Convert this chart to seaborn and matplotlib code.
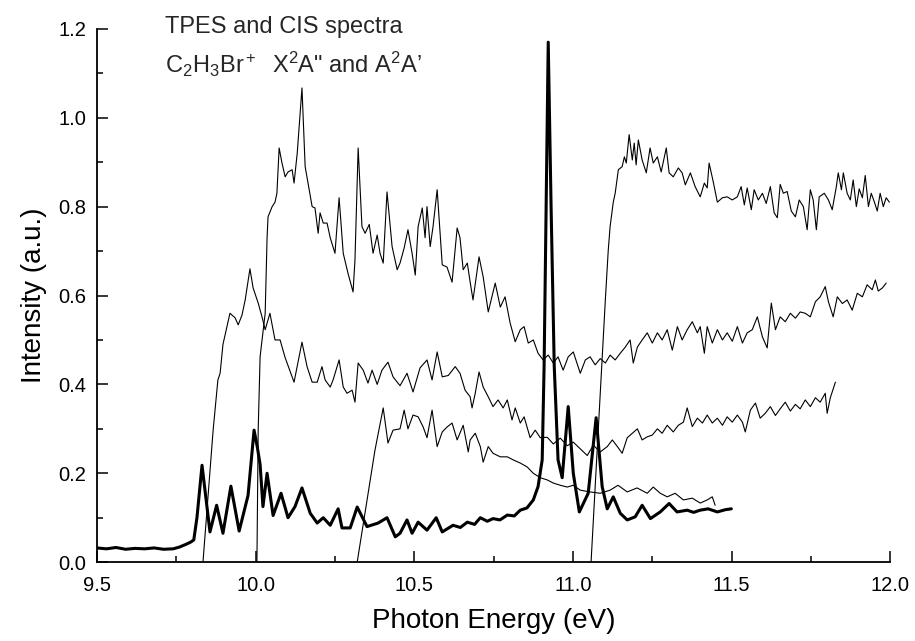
import matplotlib
matplotlib.use("Agg")
import matplotlib.pyplot as plt
from matplotlib.ticker import MultipleLocator
import seaborn as sns

sns.set_theme(style="ticks")
plt.rcParams['font.family'] = ['Liberation Sans', 'DejaVu Sans']
plt.rcParams['mathtext.fontset'] = 'custom'
plt.rcParams['mathtext.rm'] = 'Liberation Sans'
plt.rcParams['mathtext.it'] = 'Liberation Sans'

# TPES (thick line), photon energy in eV and intensity in a.u.
tpes_energy = [9.500, 9.530, 9.560, 9.590, 9.620, 9.650, 9.680, 9.710, 9.740, 9.760,
               9.780, 9.795, 9.805, 9.815, 9.831, 9.856, 9.877, 9.897, 9.922, 9.948,
               9.976, 9.995, 10.005, 10.014, 10.023, 10.036, 10.055, 10.080, 10.102, 10.124,
               10.146, 10.172, 10.194, 10.213, 10.235, 10.260, 10.272, 10.298, 10.320, 10.351,
               10.386, 10.414, 10.440, 10.455, 10.477, 10.493, 10.512, 10.540, 10.569, 10.588,
               10.622, 10.645, 10.667, 10.690, 10.708, 10.730, 10.748, 10.770, 10.793, 10.815,
               10.834, 10.855, 10.875, 10.890, 10.903, 10.909, 10.922, 10.931, 10.941, 10.953,
               10.966, 10.985, 11.001, 11.020, 11.048, 11.073, 11.092, 11.108, 11.127, 11.149,
               11.171, 11.196, 11.218, 11.244, 11.275, 11.303, 11.328, 11.360, 11.380, 11.401,
               11.426, 11.455, 11.480, 11.499]
tpes_int = [0.032, 0.030, 0.033, 0.029, 0.031, 0.030, 0.032, 0.029, 0.030, 0.034,
            0.040, 0.045, 0.050, 0.100, 0.218, 0.068, 0.128, 0.065, 0.171, 0.070,
            0.150, 0.297, 0.260, 0.220, 0.125, 0.200, 0.105, 0.155, 0.100, 0.125,
            0.167, 0.110, 0.088, 0.100, 0.083, 0.120, 0.077, 0.077, 0.124, 0.080,
            0.088, 0.100, 0.057, 0.065, 0.095, 0.065, 0.090, 0.072, 0.100, 0.068,
            0.083, 0.078, 0.090, 0.085, 0.100, 0.092, 0.098, 0.095, 0.106, 0.104,
            0.117, 0.122, 0.140, 0.170, 0.230, 0.440, 1.170, 0.800, 0.440, 0.230,
            0.190, 0.350, 0.200, 0.113, 0.155, 0.325, 0.170, 0.120, 0.147, 0.110,
            0.095, 0.102, 0.128, 0.098, 0.113, 0.132, 0.113, 0.117, 0.112, 0.117,
            0.120, 0.113, 0.118, 0.120]

# CIS curve starting at 9.83 eV
cis_a_energy = [9.834, 9.866, 9.881, 9.888, 9.897, 9.919, 9.935, 9.945, 9.957, 9.967,
                9.982, 9.992, 10.008, 10.020, 10.030, 10.045, 10.061, 10.077, 10.093, 10.121,
                10.146, 10.162, 10.178, 10.194, 10.209, 10.219, 10.235, 10.244, 10.263, 10.276,
                10.288, 10.304, 10.313, 10.323, 10.339, 10.354, 10.367, 10.383, 10.398, 10.417,
                10.433, 10.455, 10.477, 10.496, 10.518, 10.540, 10.556, 10.572, 10.588, 10.607,
                10.629, 10.644, 10.660, 10.676, 10.682, 10.692, 10.704, 10.717, 10.733, 10.748,
                10.764, 10.780, 10.793, 10.808, 10.818, 10.834, 10.846, 10.865, 10.881, 10.897,
                10.919, 10.938, 10.960, 10.982, 11.001, 11.023, 11.045, 11.064, 11.086, 11.108,
                11.124, 11.140, 11.155, 11.171, 11.187, 11.203, 11.218, 11.234, 11.250, 11.266,
                11.281, 11.297, 11.316, 11.332, 11.348, 11.360, 11.376, 11.392, 11.408, 11.423,
                11.439, 11.455, 11.471, 11.486, 11.502, 11.518, 11.534, 11.543, 11.559, 11.575,
                11.590, 11.606, 11.622, 11.638, 11.653, 11.669, 11.685, 11.701, 11.716, 11.732,
                11.748, 11.764, 11.779, 11.795, 11.801, 11.811, 11.820, 11.827]
cis_a_int = [0.000, 0.297, 0.410, 0.425, 0.490, 0.560, 0.550, 0.534, 0.556, 0.590,
             0.660, 0.617, 0.583, 0.552, 0.523, 0.560, 0.500, 0.500, 0.460, 0.405,
             0.495, 0.440, 0.405, 0.405, 0.440, 0.410, 0.394, 0.410, 0.455, 0.394,
             0.380, 0.387, 0.360, 0.448, 0.432, 0.403, 0.432, 0.400, 0.432, 0.450,
             0.417, 0.397, 0.425, 0.383, 0.437, 0.455, 0.410, 0.473, 0.417, 0.420,
             0.440, 0.425, 0.387, 0.372, 0.347, 0.380, 0.428, 0.394, 0.372, 0.350,
             0.365, 0.347, 0.365, 0.320, 0.347, 0.313, 0.327, 0.280, 0.297, 0.280,
             0.281, 0.266, 0.279, 0.262, 0.270, 0.255, 0.240, 0.263, 0.248, 0.260,
             0.275, 0.260, 0.245, 0.280, 0.290, 0.300, 0.275, 0.282, 0.286, 0.300,
             0.290, 0.308, 0.293, 0.308, 0.315, 0.347, 0.305, 0.324, 0.313, 0.331,
             0.313, 0.324, 0.308, 0.327, 0.315, 0.331, 0.315, 0.293, 0.342, 0.358,
             0.324, 0.335, 0.350, 0.330, 0.345, 0.360, 0.340, 0.355, 0.345, 0.365,
             0.350, 0.370, 0.360, 0.380, 0.335, 0.370, 0.390, 0.405]

# CIS curve starting at 10.00 eV
cis_b_energy = [10.004, 10.008, 10.014, 10.030, 10.036, 10.039, 10.052, 10.061, 10.067, 10.074,
                10.083, 10.093, 10.102, 10.115, 10.121, 10.131, 10.146, 10.156, 10.165, 10.178,
                10.187, 10.197, 10.203, 10.213, 10.225, 10.235, 10.250, 10.263, 10.276, 10.291,
                10.307, 10.313, 10.323, 10.335, 10.345, 10.358, 10.370, 10.383, 10.392, 10.402,
                10.414, 10.430, 10.446, 10.455, 10.468, 10.480, 10.493, 10.503, 10.512, 10.525,
                10.534, 10.540, 10.550, 10.559, 10.572, 10.588, 10.603, 10.619, 10.635, 10.644,
                10.654, 10.667, 10.676, 10.685, 10.704, 10.717, 10.733, 10.755, 10.771, 10.786,
                10.802, 10.818, 10.834, 10.846, 10.859, 10.875, 10.890, 10.906, 10.922, 10.938,
                10.953, 10.969, 10.985, 11.001, 11.023, 11.039, 11.054, 11.070, 11.086, 11.102,
                11.117, 11.133, 11.149, 11.165, 11.180, 11.190, 11.203, 11.218, 11.234, 11.250,
                11.266, 11.281, 11.297, 11.313, 11.329, 11.344, 11.360, 11.376, 11.392, 11.401,
                11.414, 11.423, 11.439, 11.455, 11.471, 11.486, 11.502, 11.518, 11.534, 11.549,
                11.565, 11.581, 11.597, 11.612, 11.625, 11.638, 11.653, 11.669, 11.685, 11.701,
                11.716, 11.732, 11.748, 11.764, 11.779, 11.795, 11.805, 11.820, 11.833, 11.849,
                11.864, 11.880, 11.896, 11.912, 11.927, 11.943, 11.953, 11.962, 11.975, 11.987]
cis_b_int = [0.000, 0.297, 0.462, 0.560, 0.730, 0.777, 0.800, 0.810, 0.830, 0.932,
             0.898, 0.867, 0.878, 0.883, 0.853, 0.920, 1.067, 0.890, 0.853, 0.800,
             0.797, 0.740, 0.786, 0.763, 0.763, 0.730, 0.695, 0.820, 0.695, 0.650,
             0.608, 0.680, 0.932, 0.755, 0.740, 0.760, 0.695, 0.736, 0.695, 0.673,
             0.833, 0.710, 0.658, 0.673, 0.707, 0.748, 0.695, 0.646, 0.755, 0.797,
             0.730, 0.800, 0.710, 0.755, 0.838, 0.669, 0.664, 0.630, 0.752, 0.730,
             0.658, 0.673, 0.630, 0.590, 0.687, 0.642, 0.563, 0.628, 0.574, 0.597,
             0.538, 0.496, 0.523, 0.530, 0.493, 0.500, 0.470, 0.455, 0.466, 0.448,
             0.462, 0.432, 0.462, 0.473, 0.425, 0.455, 0.462, 0.444, 0.458, 0.448,
             0.466, 0.455, 0.470, 0.484, 0.500, 0.448, 0.484, 0.500, 0.516, 0.493,
             0.516, 0.500, 0.523, 0.477, 0.530, 0.500, 0.523, 0.541, 0.516, 0.530,
             0.470, 0.530, 0.493, 0.523, 0.500, 0.516, 0.497, 0.530, 0.493, 0.516,
             0.523, 0.552, 0.507, 0.482, 0.583, 0.523, 0.552, 0.541, 0.560, 0.549,
             0.563, 0.560, 0.552, 0.586, 0.597, 0.620, 0.586, 0.552, 0.597, 0.582,
             0.590, 0.567, 0.605, 0.597, 0.624, 0.613, 0.635, 0.610, 0.617, 0.628]

# CIS curve starting at 10.32 eV
cis_c_energy = [10.320, 10.376, 10.402, 10.417, 10.433, 10.455, 10.468, 10.480, 10.496, 10.512,
                10.528, 10.540, 10.556, 10.572, 10.588, 10.603, 10.619, 10.635, 10.654, 10.670,
                10.676, 10.692, 10.708, 10.717, 10.733, 10.748, 10.771, 10.793, 10.812, 10.834,
                10.856, 10.875, 10.897, 10.919, 10.938, 10.960, 10.982, 11.001, 11.023, 11.054,
                11.086, 11.117, 11.142, 11.171, 11.202, 11.234, 11.253, 11.275, 11.297, 11.322,
                11.348, 11.376, 11.401, 11.423, 11.439, 11.448]
cis_c_int = [0.000, 0.252, 0.347, 0.268, 0.297, 0.300, 0.342, 0.300, 0.331, 0.327,
             0.304, 0.280, 0.342, 0.260, 0.293, 0.304, 0.313, 0.275, 0.308, 0.248,
             0.275, 0.290, 0.260, 0.225, 0.260, 0.245, 0.237, 0.237, 0.230, 0.223,
             0.214, 0.200, 0.190, 0.185, 0.178, 0.173, 0.169, 0.173, 0.162, 0.158,
             0.155, 0.162, 0.173, 0.158, 0.167, 0.155, 0.169, 0.155, 0.147, 0.155,
             0.140, 0.144, 0.133, 0.140, 0.147, 0.128]

# CIS curve starting at 11.06 eV
cis_d_energy = [11.057, 11.102, 11.111, 11.117, 11.127, 11.133, 11.143, 11.155, 11.162, 11.168,
                11.177, 11.187, 11.193, 11.199, 11.206, 11.218, 11.231, 11.243, 11.253, 11.266,
                11.278, 11.294, 11.303, 11.316, 11.332, 11.344, 11.354, 11.370, 11.385, 11.401,
                11.414, 11.423, 11.429, 11.442, 11.455, 11.471, 11.486, 11.502, 11.518, 11.530,
                11.540, 11.549, 11.562, 11.571, 11.584, 11.597, 11.609, 11.622, 11.634, 11.644,
                11.653, 11.663, 11.675, 11.688, 11.701, 11.713, 11.726, 11.738, 11.748, 11.757,
                11.767, 11.776, 11.792, 11.805, 11.817, 11.830, 11.836, 11.846, 11.852, 11.864,
                11.874, 11.883, 11.893, 11.902, 11.912, 11.921, 11.931, 11.940, 11.950, 11.959,
                11.968, 11.978, 11.987, 11.997]
cis_d_int = [0.000, 0.590, 0.700, 0.755, 0.810, 0.830, 0.883, 0.890, 0.912, 0.898,
             0.962, 0.905, 0.943, 0.894, 0.950, 0.905, 0.876, 0.932, 0.898, 0.912,
             0.878, 0.932, 0.876, 0.867, 0.887, 0.876, 0.849, 0.876, 0.845, 0.822,
             0.853, 0.842, 0.898, 0.856, 0.810, 0.820, 0.822, 0.815, 0.822, 0.845,
             0.804, 0.842, 0.793, 0.838, 0.815, 0.830, 0.807, 0.845, 0.786, 0.775,
             0.850, 0.830, 0.834, 0.790, 0.777, 0.815, 0.800, 0.748, 0.838, 0.815,
             0.748, 0.822, 0.830, 0.815, 0.793, 0.845, 0.876, 0.838, 0.876, 0.830,
             0.815, 0.860, 0.800, 0.840, 0.820, 0.870, 0.800, 0.830, 0.810, 0.790,
             0.830, 0.800, 0.820, 0.810]

xticks = [9.5, 10.0, 10.5, 11.0, 11.5, 12.0]
yticks = [0.0, 0.2, 0.4, 0.6, 0.8, 1.0, 1.2]

fig = plt.figure(figsize=(9.15, 6.41), dpi=100)
ax = fig.add_axes([0.106, 0.123, 0.867, 0.832])

# thin CIS curves
for e, i in [(cis_a_energy, cis_a_int), (cis_b_energy, cis_b_int),
             (cis_c_energy, cis_c_int), (cis_d_energy, cis_d_int)]:
    sns.lineplot(x=e, y=i, color='black', linewidth=0.8, estimator=None, sort=False, ax=ax)

# thick TPES curve
sns.lineplot(x=tpes_energy, y=tpes_int, color='black', linewidth=2.2, estimator=None, sort=False, ax=ax)

ax.set_xlim(9.5, 12.0)
ax.set_ylim(0, 1.2)
ax.set_xticks(xticks)
ax.set_xticklabels(['%.1f' % t for t in xticks])
ax.set_yticks(yticks)
ax.set_yticklabels(['%.1f' % t for t in yticks])
ax.xaxis.set_minor_locator(MultipleLocator(0.25))
ax.yaxis.set_minor_locator(MultipleLocator(0.1))
ax.tick_params(which='both', direction='in', colors='black', width=1.1, labelsize=14.5)
ax.tick_params(axis='x', pad=10)
ax.tick_params(axis='y', pad=8)
ax.tick_params(which='major', length=8)
ax.tick_params(which='minor', length=4)
sns.despine(ax=ax)
for s in ['left', 'bottom']:
    ax.spines[s].set_linewidth(1.3)
    ax.spines[s].set_color('black')

ax.set_xlabel('Photon Energy (eV)', fontsize=20, labelpad=9, color='black')
ax.set_ylabel('Intensity (a.u.)', fontsize=20, labelpad=8, color='black')

ax.text(0.0858, 0.9925, 'TPES and CIS spectra', transform=ax.transAxes,
        fontsize=17, va='baseline', ha='left', clip_on=False)
ax.text(0.0858, 0.917, r'C$_2$H$_3$Br$^+$  X$^2$A" and A$^2$A’', transform=ax.transAxes,
        fontsize=17, va='baseline', ha='left')

fig.savefig('out.png', dpi=100)
